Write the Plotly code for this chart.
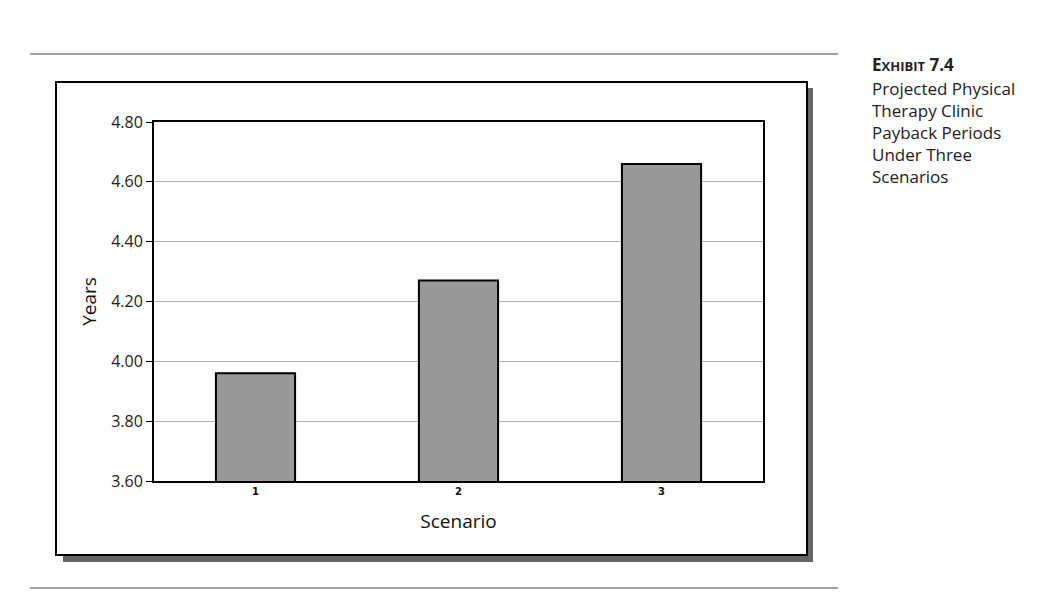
import plotly.graph_objects as go

scenarios = ["1", "2", "3"]
years = [3.96, 4.27, 4.66]
y_ticks = [3.60, 3.80, 4.00, 4.20, 4.40, 4.60, 4.80]

OFF = 8  # page body margin
W, H = 1061 - OFF, 614 - OFF
L, R, T, B = 154 - OFF, 763 - OFF, 122 - OFF, 481 - OFF  # plot area in figure px

def px(x):
    return (x - OFF - L) / (R - L)

def py(y):
    return (B - (y - OFF)) / (B - T)

fig = go.Figure()
fig.add_trace(go.Bar(
    x=scenarios, y=years,
    marker=dict(color="#999999", line=dict(color="black", width=2)),
    width=0.39,
))

shapes = [
    dict(type="rect", xref="paper", yref="paper", layer="below",
         x0=px(63), x1=px(813), y0=py(88), y1=py(562),
         fillcolor="#666666", line=dict(width=0)),
    dict(type="rect", xref="paper", yref="paper", layer="below",
         x0=px(56), x1=px(807), y0=py(82), y1=py(555),
         fillcolor="white", line=dict(color="black", width=2)),
    dict(type="line", xref="paper", yref="paper",
         x0=px(30), x1=px(838), y0=py(54), y1=py(54),
         line=dict(color="#444444", width=1)),
    dict(type="line", xref="paper", yref="paper",
         x0=px(30), x1=px(838), y0=py(588), y1=py(588),
         line=dict(color="#444444", width=1)),
]

annotations = [
    dict(xref="paper", yref="paper", x=px(870), y=py(51), xanchor="left", yanchor="top",
         align="left", showarrow=False,
         text="<b>E<span style='font-size:13px'>XHIBIT</span> 7.4</b>",
         font=dict(family="Open Sans", size=17, color="#222222")),
    dict(xref="paper", yref="paper", x=px(870), y=py(75), xanchor="left", yanchor="top",
         align="left", showarrow=False,
         text="Projected Physical<br>Therapy Clinic<br>Payback Periods<br>Under Three<br>Scenarios",
         font=dict(family="Open Sans", size=17, color="#222222")),
]

fig.update_layout(
    width=W, height=H, autosize=False,
    margin=dict(l=L, r=W - R, t=T, b=H - B, pad=0),
    paper_bgcolor="white", plot_bgcolor="white",
    showlegend=False,
    shapes=shapes, annotations=annotations,
)
fig.update_xaxes(
    type="category",
    showline=True, mirror=True, linecolor="black", linewidth=2,
    ticks="", showgrid=False,
    tickfont=dict(family="DejaVu Sans", size=10, color="#111111", weight="bold"),
    title=dict(text="Scenario", standoff=19,
               font=dict(family="Open Sans", size=19, color="#111111", weight=500)),
)
fig.update_yaxes(
    range=[3.6, 4.8], tickvals=y_ticks, tickformat=".2f",
    showline=True, mirror=True, linecolor="black", linewidth=2,
    ticks="outside", ticklen=6, tickcolor="black", tickwidth=1,
    showgrid=True, gridcolor="#b0b0b0", gridwidth=1,
    zeroline=False,
    tickfont=dict(family="Open Sans", size=16, color="#222222"),
    title=dict(text="Years", standoff=9,
               font=dict(family="Open Sans", size=19, color="#111111", weight=500)),
)

fig.write_html("out.html")
